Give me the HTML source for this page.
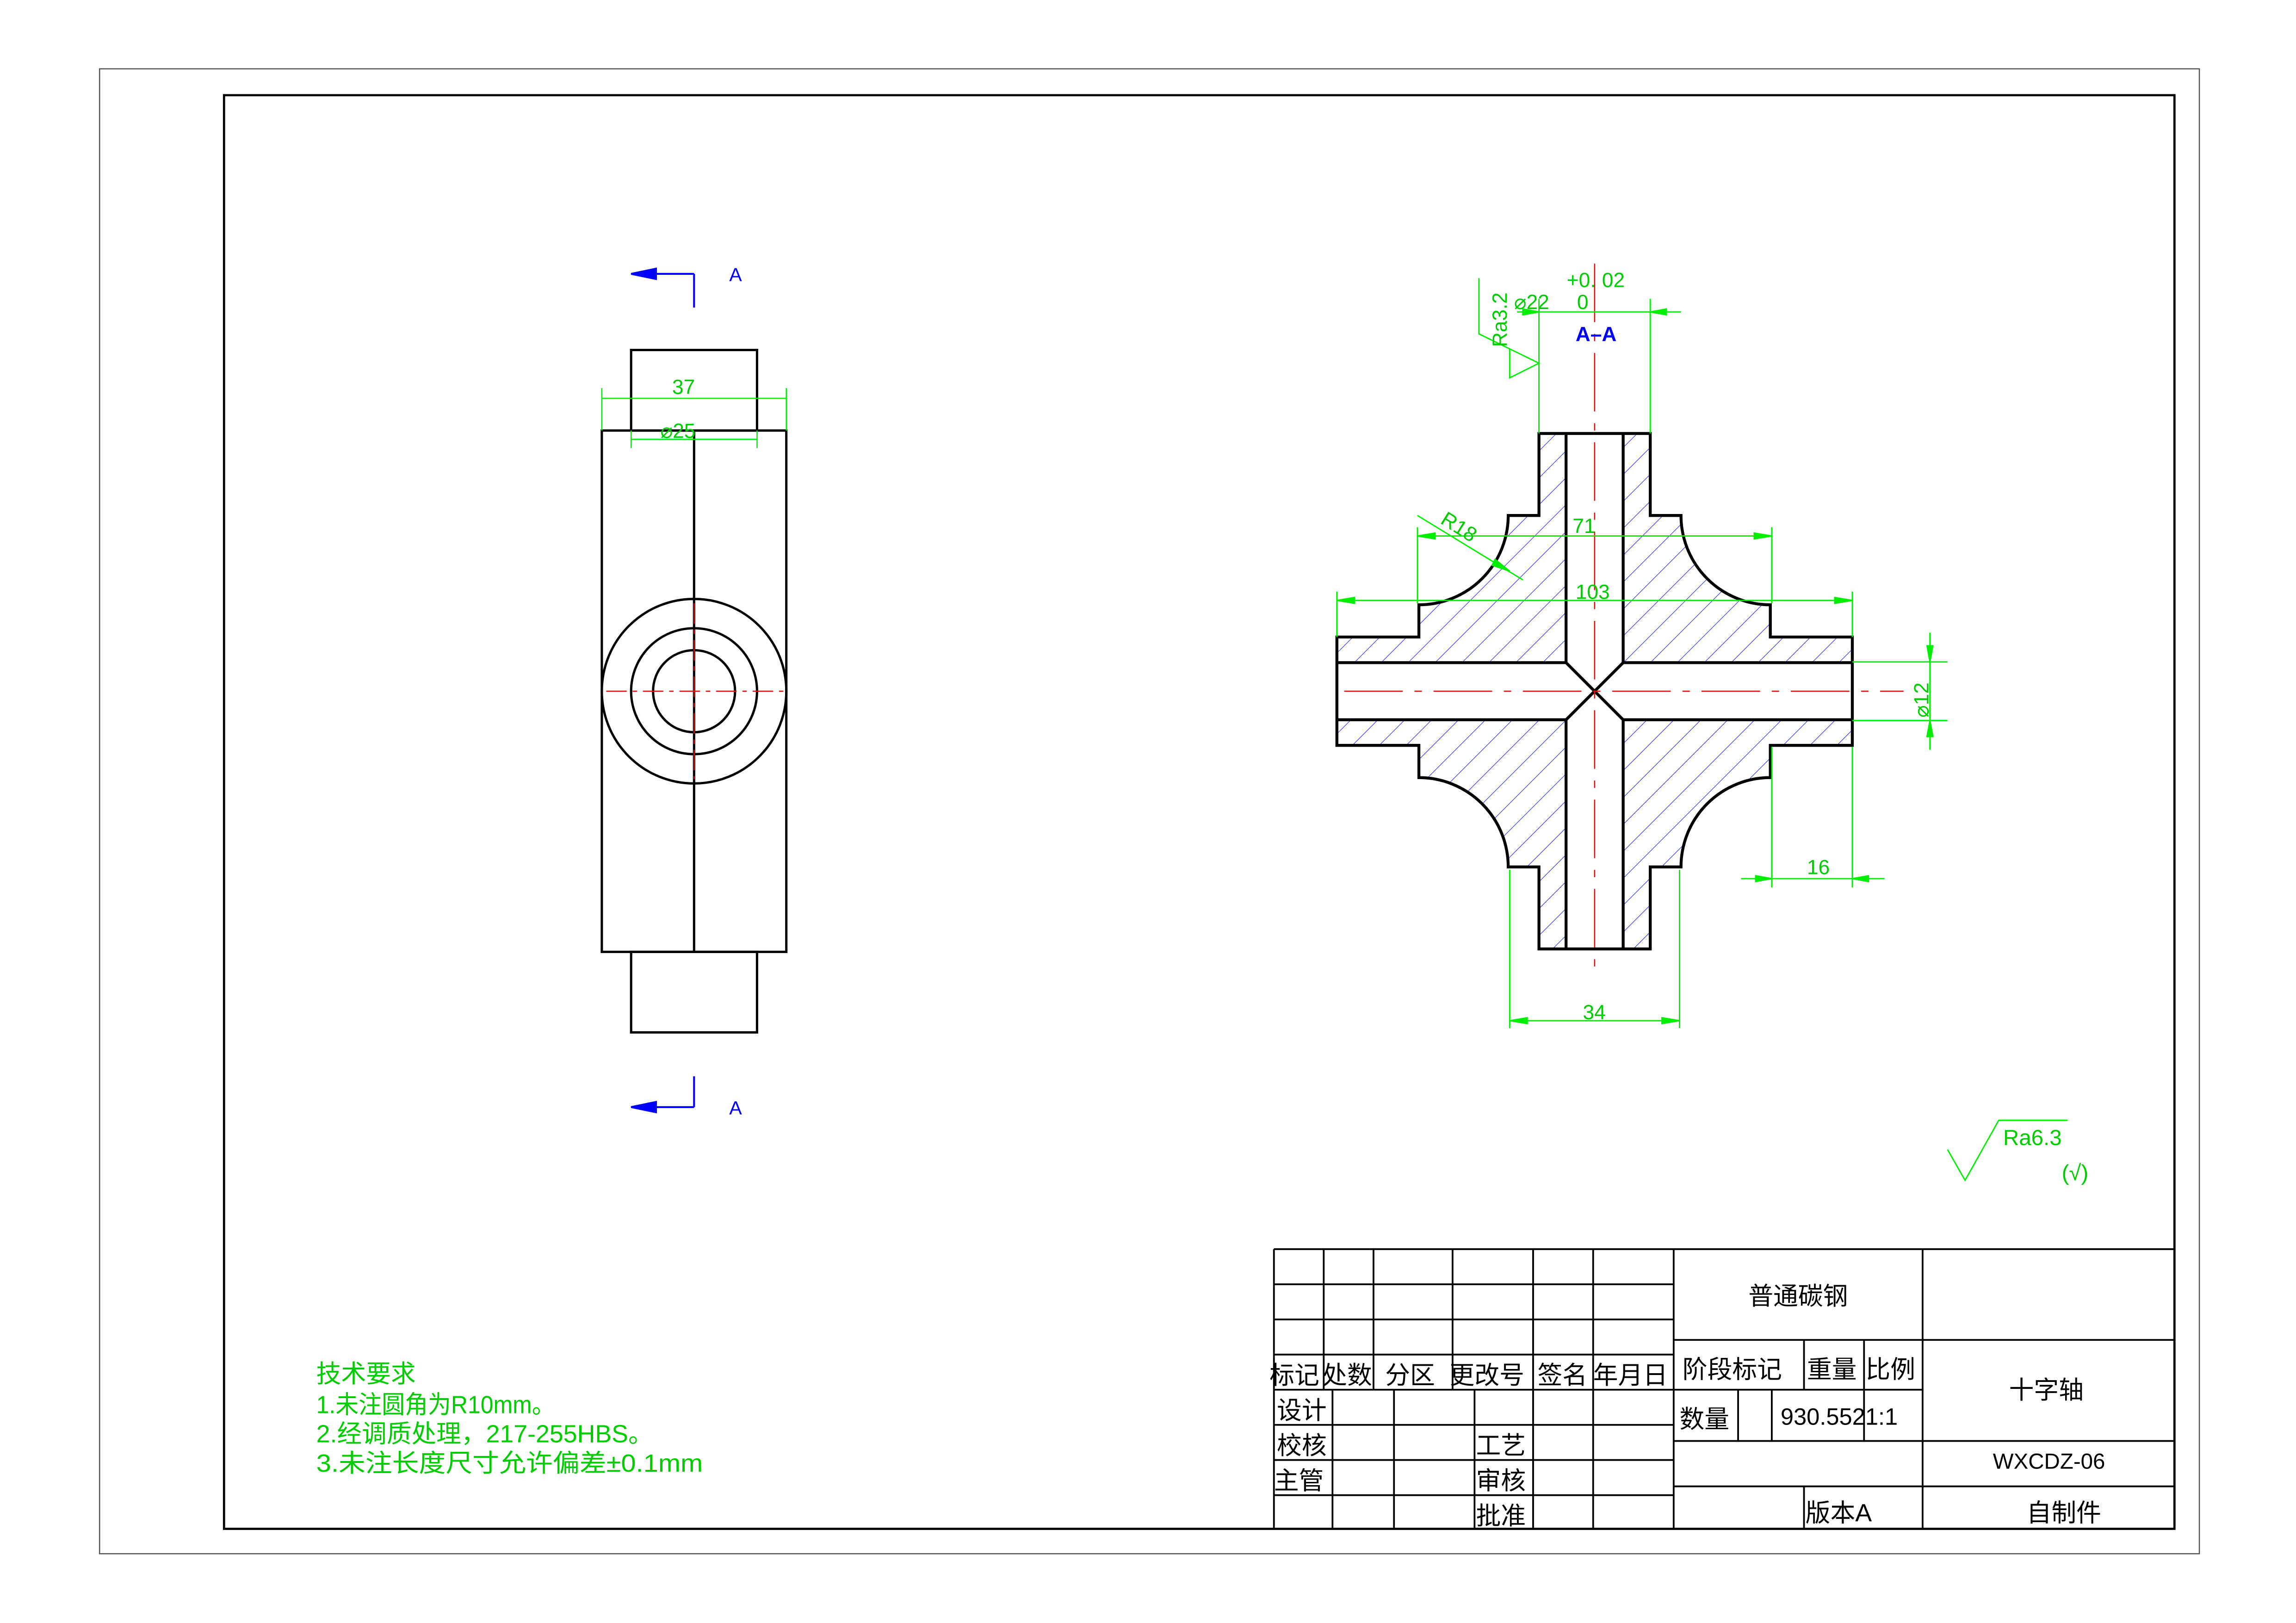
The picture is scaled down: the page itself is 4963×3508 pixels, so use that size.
<!DOCTYPE html>
<html><head><meta charset="utf-8"><style>html,body{margin:0;padding:0;background:#fff}svg{display:block}</style></head><body>
<svg xmlns="http://www.w3.org/2000/svg" width="4963" height="3508" viewBox="0 0 1568 1108.3">
<defs>
<pattern id="h" patternUnits="userSpaceOnUse" width="13" height="13" patternTransform="rotate(45)"><line x1="0" y1="0" x2="0" y2="13" stroke="#0000ff" stroke-width="0.6"/></pattern>
</defs>
<rect width="1568" height="1108.3" fill="#fff"/>
<rect x="68" y="47" width="1434" height="1014" fill="none" stroke="#555" stroke-width="0.8"/>
<rect x="153" y="65" width="1332" height="979" fill="none" stroke="#000" stroke-width="1.5"/>

<!-- left view -->
<g fill="none" stroke="#000" stroke-width="1.6">
<rect x="431" y="239" width="86" height="55"/>
<rect x="411" y="294" width="126" height="356"/>
<rect x="431" y="650" width="86" height="55"/>
<line x1="474" y1="294" x2="474" y2="650"/>
<circle cx="474" cy="472" r="63"/><circle cx="474" cy="472" r="43"/><circle cx="474" cy="472" r="28"/>
</g>
<g stroke="#ff0000" stroke-width="0.8" stroke-dasharray="14 4 3 4">
<line x1="414" y1="472" x2="535" y2="472"/><line x1="474" y1="412" x2="474" y2="532"/>
</g>
<g stroke="#0000ff" stroke-width="1.3" fill="#0000ff">
<line x1="445" y1="187" x2="474" y2="187"/><line x1="474" y1="187" x2="474" y2="210"/><polygon points="431,187 448,183.5 448,190.5"/>
<line x1="445" y1="756" x2="474" y2="756"/><line x1="474" y1="735" x2="474" y2="756"/><polygon points="431,756 448,752.5 448,759.5"/>
</g>
<g font-family="Liberation Sans, sans-serif" font-size="13" fill="#0000ff"><text x="498" y="192">A</text><text x="498" y="761">A</text></g>
<g stroke="#00ee00" stroke-width="0.8" fill="#00ee00">
<line x1="411" y1="265" x2="411" y2="294"/><line x1="537" y1="265" x2="537" y2="294"/>
<line x1="411" y1="272" x2="537" y2="272"/>
<line x1="431" y1="294" x2="431" y2="306"/><line x1="517" y1="294" x2="517" y2="306"/>
<line x1="431" y1="300" x2="517" y2="300"/>
</g>
<g font-family="Liberation Sans, sans-serif" font-size="14" fill="#00cc00"><text x="459" y="269">37</text><text x="451" y="299">⌀25</text></g>

<!-- section view -->
<g transform="translate(1089,472)">
<path d="M-38,-176 L38,-176 L38,-120 L59,-120 A61,61 0 0 0 120,-59 L120,-37 L176,-37 L176,37 L120,37 L120,59 A61,61 0 0 0 59,120 L38,120 L38,176 L-38,176 L-38,120 L-59,120 A61,61 0 0 0 -120,59 L-120,37 L-176,37 L-176,-37 L-120,-37 L-120,-59 A61,61 0 0 0 -59,-120 L-38,-120 Z" fill="url(#h)"/>
<rect x="-176" y="-19.5" width="352" height="39" fill="#fff"/>
<rect x="-19.5" y="-176" width="39" height="352" fill="#fff"/>
<path d="M-38,-176 L38,-176 L38,-120 L59,-120 A61,61 0 0 0 120,-59 L120,-37 L176,-37 L176,37 L120,37 L120,59 A61,61 0 0 0 59,120 L38,120 L38,176 L-38,176 L-38,120 L-59,120 A61,61 0 0 0 -120,59 L-120,37 L-176,37 L-176,-37 L-120,-37 L-120,-59 A61,61 0 0 0 -59,-120 L-38,-120 Z" fill="none" stroke="#000" stroke-width="2"/>
<g stroke="#000" stroke-width="2">
<line x1="-176" y1="-19.5" x2="-19.5" y2="-19.5"/><line x1="19.5" y1="-19.5" x2="176" y2="-19.5"/>
<line x1="-176" y1="19.5" x2="-19.5" y2="19.5"/><line x1="19.5" y1="19.5" x2="176" y2="19.5"/>
<line x1="-19.5" y1="-176" x2="-19.5" y2="-19.5"/><line x1="19.5" y1="-176" x2="19.5" y2="-19.5"/>
<line x1="-19.5" y1="19.5" x2="-19.5" y2="176"/><line x1="19.5" y1="19.5" x2="19.5" y2="176"/>
<line x1="-19.5" y1="-19.5" x2="19.5" y2="19.5"/><line x1="19.5" y1="-19.5" x2="-19.5" y2="19.5"/>
</g>
<g stroke="#ff0000" stroke-width="0.8" stroke-dasharray="40 8 5 8">
<line x1="0" y1="-292" x2="0" y2="193"/><line x1="-171" y1="0" x2="211" y2="0"/>
</g>
</g>

<!-- dimensions -->
<g stroke="#00ee00" stroke-width="0.9" fill="#00ee00">
<line x1="1051" y1="296" x2="1051" y2="204"/><line x1="1127" y1="296" x2="1127" y2="204"/>
<line x1="1036" y1="213" x2="1148" y2="213"/>
<polygon points="1051,213 1040,211 1040,215"/><polygon points="1127,213 1138,211 1138,215"/>
<polyline points="1010,190 1010,228 1051,248 1031,258 1031,238" fill="none"/>
<line x1="968" y1="360" x2="968" y2="412"/><line x1="1210" y1="360" x2="1210" y2="412"/>
<line x1="968" y1="366" x2="1210" y2="366"/>
<polygon points="968,366 980,364 980,368"/><polygon points="1210,366 1198,364 1198,368"/>
<line x1="913" y1="404" x2="913" y2="435"/><line x1="1265" y1="404" x2="1265" y2="435"/>
<line x1="913" y1="410" x2="1265" y2="410"/>
<polygon points="913,410 925,408 925,412"/><polygon points="1265,410 1253,408 1253,412"/>
<line x1="968" y1="352" x2="1040" y2="396"/><polygon points="1031,390 1021,382 1019,386"/>
<line x1="1265" y1="452" x2="1330" y2="452"/><line x1="1265" y1="492" x2="1330" y2="492"/>
<line x1="1318" y1="432" x2="1318" y2="512"/>
<polygon points="1318,452 1316,441 1320,441"/><polygon points="1318,492 1316,503 1320,503"/>
<line x1="1210" y1="510" x2="1210" y2="606"/><line x1="1265" y1="510" x2="1265" y2="606"/>
<line x1="1189" y1="600" x2="1287" y2="600"/>
<polygon points="1210,600 1199,598 1199,602"/><polygon points="1265,600 1276,598 1276,602"/>
<line x1="1031" y1="594" x2="1031" y2="702"/><line x1="1147" y1="594" x2="1147" y2="702"/>
<line x1="1031" y1="697" x2="1147" y2="697"/>
<polygon points="1031,697 1043,695 1043,699"/><polygon points="1147,697 1135,695 1135,699"/>
<polyline points="1330,785 1342,806 1365,765 1412,765" fill="none"/>
</g>
<g font-family="Liberation Sans, sans-serif" font-size="14" fill="#00cc00">
<text x="1034" y="211">⌀22</text><text x="1070" y="196">+0.</text><text x="1094" y="196">02</text><text x="1077" y="211">0</text>
<text transform="translate(1029,237) rotate(-90)">Ra3.2</text>
<text x="1074" y="364">71</text><text x="1076" y="409">103</text>
<text transform="translate(983,357) rotate(32)">R18</text>
<text transform="translate(1317,490) rotate(-90)">⌀12</text>
<text x="1234" y="597">16</text><text x="1081" y="696">34</text>
<text x="1368" y="782" font-size="15">Ra6.3</text><text x="1408" y="806" font-size="15">(√)</text>
</g>
<text x="1076" y="233" font-family="Liberation Sans, sans-serif" font-size="14" font-weight="bold" fill="#0000ff">A–A</text>

<!-- tech notes -->
<g font-family="Liberation Sans, Noto Sans CJK SC, sans-serif" font-size="17" fill="#00cc00">
<text x="216" y="944">技术要求</text>
<text x="216" y="965" textLength="163" lengthAdjust="spacingAndGlyphs">1.未注圆角为R10mm。</text>
<text x="216" y="985" textLength="230" lengthAdjust="spacingAndGlyphs">2.经调质处理，217-255HBS。</text>
<text x="216" y="1005" textLength="264" lengthAdjust="spacingAndGlyphs">3.未注长度尺寸允许偏差±0.1mm</text>
</g>

<!-- title block -->
<g stroke="#000" stroke-width="1.2" fill="none">
<line x1="870" y1="853" x2="1485" y2="853"/>
<line x1="870" y1="853" x2="870" y2="1044"/>
<line x1="870" y1="877" x2="1143" y2="877"/><line x1="870" y1="901" x2="1143" y2="901"/>
<line x1="870" y1="925" x2="1143" y2="925"/><line x1="870" y1="949" x2="1143" y2="949"/>
<line x1="870" y1="973" x2="1143" y2="973"/><line x1="870" y1="997" x2="1143" y2="997"/>
<line x1="870" y1="1021" x2="1143" y2="1021"/>
<line x1="904" y1="853" x2="904" y2="949"/><line x1="938" y1="853" x2="938" y2="949"/>
<line x1="992" y1="853" x2="992" y2="949"/><line x1="1047" y1="853" x2="1047" y2="1044"/>
<line x1="1088" y1="853" x2="1088" y2="1044"/><line x1="1143" y1="853" x2="1143" y2="1044"/>
<line x1="910" y1="949" x2="910" y2="1044"/><line x1="952" y1="949" x2="952" y2="1044"/>
<line x1="1007" y1="949" x2="1007" y2="1044"/>
<line x1="1313" y1="853" x2="1313" y2="1044"/>
<line x1="1143" y1="915" x2="1485" y2="915"/>
<line x1="1143" y1="949" x2="1313" y2="949"/>
<line x1="1143" y1="984" x2="1485" y2="984"/>
<line x1="1143" y1="1015" x2="1485" y2="1015"/>
<line x1="1232" y1="915" x2="1232" y2="949"/><line x1="1273" y1="915" x2="1273" y2="984"/>
<line x1="1187" y1="949" x2="1187" y2="984"/><line x1="1210" y1="949" x2="1210" y2="984"/>
<line x1="1232" y1="1015" x2="1232" y2="1044"/>
</g>
<g font-family="Liberation Sans, Noto Sans CJK SC, sans-serif" font-size="17" fill="#000">
<text x="867" y="945">标记</text><text x="903" y="945">处数</text><text x="946" y="945">分区</text>
<text x="990" y="945">更改号</text><text x="1050" y="945">签名</text><text x="1088" y="945">年月日</text>
<text x="872" y="969">设计</text><text x="872" y="993">校核</text><text x="870" y="1017">主管</text>
<text x="1008" y="993">工艺</text><text x="1008" y="1017">审核</text><text x="1008" y="1041">批准</text>
<text x="1194" y="891">普通碳钢</text>
<text x="1149" y="941">阶段标记</text><text x="1234" y="941">重量</text><text x="1274" y="941">比例</text>
<text x="1147" y="975">数量</text><text x="1216" y="973" font-size="16">930.5521:1</text>
<text x="1372" y="955">十字轴</text>
<text x="1361" y="1003" font-size="15">WXCDZ-06</text>
<text x="1233" y="1039">版本A</text>
<text x="1384" y="1039">自制件</text>
</g>
</svg>
</body></html>
